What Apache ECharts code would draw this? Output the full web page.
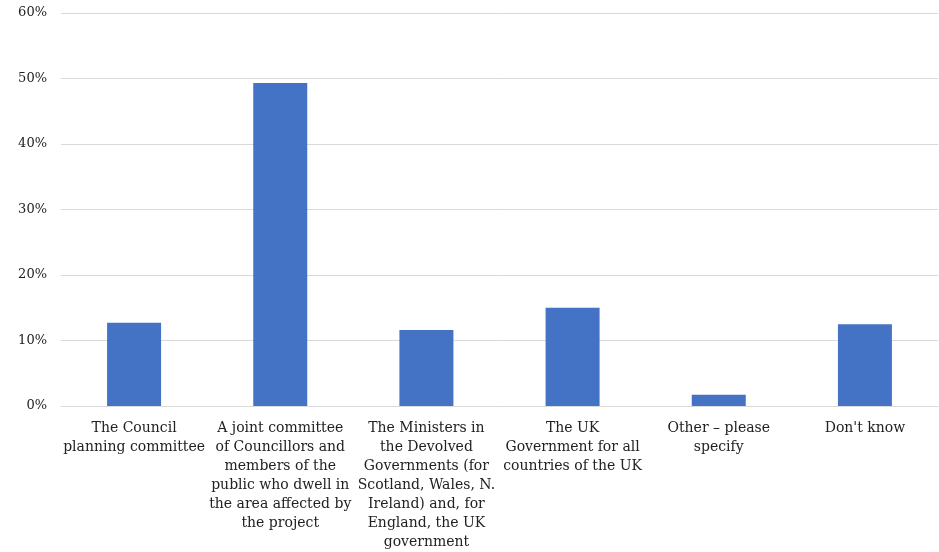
<!DOCTYPE html>
<html><head><meta charset="utf-8">
<script src="https://cdn.jsdelivr.net/npm/echarts@6/dist/echarts.min.js"></script>
<style>html,body{margin:0;padding:0;background:#fff}#c{width:939px;height:552px}</style>
</head><body><div id="c"></div>
<script>
const categories = [
  "The Council\nplanning committee",
  "A joint committee\nof Councillors and\nmembers of the\npublic who dwell in\nthe area affected by\nthe project",
  "The Ministers in\nthe Devolved\nGovernments (for\nScotland, Wales, N.\nIreland) and, for\nEngland, the UK\ngovernment",
  "The UK\nGovernment for all\ncountries of the UK",
  "Other \u2013 please\nspecify",
  "Don't know"
];
const values = [12.7, 49.3, 11.6, 15.0, 1.7, 12.5];
const yTicks = [0, 10, 20, 30, 40, 50, 60];

const chart = echarts.init(document.getElementById('c'), null, {renderer: 'canvas'});
const font = '"DejaVu Serif", "Liberation Serif", serif';
chart.setOption({
  animation: false,
  grid: {left: 61, right: 1, top: 13, bottom: 146, containLabel: false},
  xAxis: {
    type: 'category', data: categories,
    axisLine: {show: true, lineStyle: {color: '#d9d9d9', width: 1}},
    axisTick: {show: false},
    axisLabel: {interval: 0, color: '#222', fontFamily: font, fontSize: 14, lineHeight: 19, margin: 13}
  },
  yAxis: {
    type: 'value', min: yTicks[0], max: yTicks[yTicks.length-1], interval: 10,
    axisLine: {show: false}, axisTick: {show: false},
    splitLine: {lineStyle: {color: '#d9d9d9', width: 1}},
    axisLabel: {formatter: v => v + '%', color: '#222', fontFamily: font, fontSize: 13, margin: 14}
  },
  series: [{
    type: 'bar', data: values, barWidth: 54,
    itemStyle: {color: '#4472C4'}
  }]
});
</script></body></html>
